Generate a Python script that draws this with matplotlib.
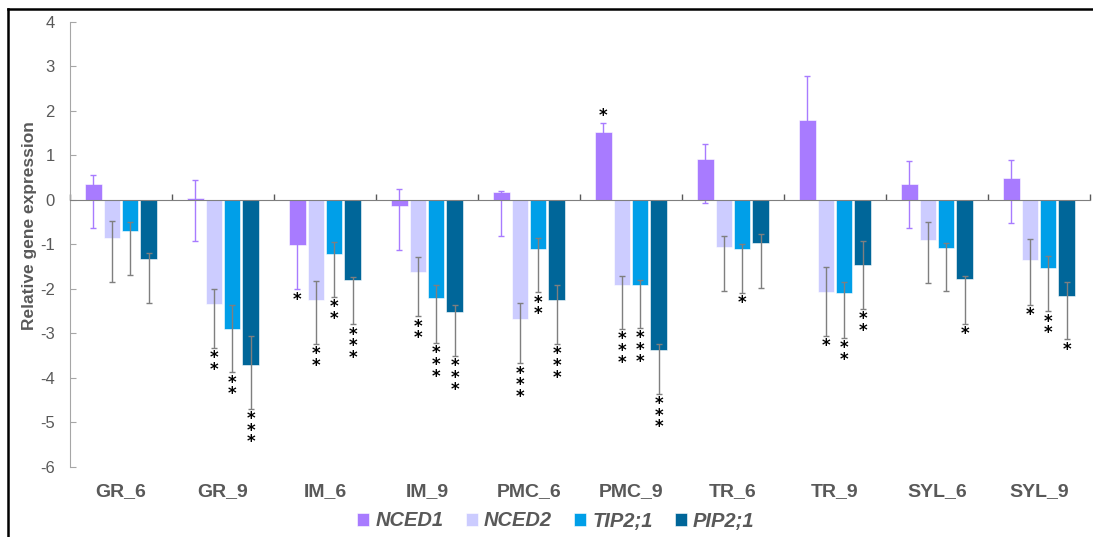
import numpy as np
import matplotlib
matplotlib.use('Agg')
from matplotlib import pyplot as plt
from matplotlib.lines import Line2D

plt.rcParams['font.family'] = ['Liberation Sans', 'DejaVu Sans']
plt.rcParams['axes.unicode_minus'] = False

categories = ['GR_6', 'GR_9', 'IM_6', 'IM_9', 'PMC_6', 'PMC_9', 'TR_6', 'TR_9', 'SYL_6', 'SYL_9']
genes = ['NCED1', 'NCED2', 'TIP2;1', 'PIP2;1']
colors = ['#A87BFF', '#CCCCFF', '#009FE8', '#006699']

# 柱高
nced1 = [0.36, 0.05, -1.01, -0.13, 0.19, 1.53, 0.93, 1.80, 0.37, 0.49]
nced2 = [-0.85, -2.33, -2.24, -1.62, -2.68, -1.91, -1.05, -2.07, -0.90, -1.35]
tip = [-0.69, -2.89, -1.22, -2.21, -1.09, -1.90, -1.09, -2.10, -1.07, -1.53]
pip = [-1.33, -3.70, -1.80, -2.51, -2.24, -3.36, -0.97, -1.47, -1.78, -2.16]

# 误差线上端 / 下端
nced1_hi = [0.56, 0.46, -0.72, 0.24, 0.21, 1.72, 1.25, 2.79, 0.88, 0.90]
nced1_lo = [-0.64, -0.93, -2.01, -1.12, -0.81, 0.53, -0.07, 0.80, -0.63, -0.52]
nced2_hi = [-0.48, -1.99, -1.83, -1.29, -2.32, -1.70, -0.81, -1.50, -0.50, -0.87]
nced2_lo = [-1.85, -3.32, -3.23, -2.61, -3.67, -2.90, -2.04, -3.05, -1.87, -2.35]
tip_hi = [-0.50, -2.37, -0.94, -1.90, -0.85, -1.79, -0.98, -1.85, -0.96, -1.25]
tip_lo = [-1.68, -3.87, -2.18, -3.21, -2.07, -2.87, -2.08, -3.10, -2.04, -2.50]
pip_hi = [-1.19, -3.05, -1.73, -2.35, -1.91, -3.24, -0.76, -0.93, -1.70, -1.85]
pip_lo = [-2.32, -4.69, -2.79, -3.50, -3.23, -4.35, -1.97, -2.45, -2.78, -3.13]

# 显著性星号个数
nced1_sig = [0, 0, 1, 0, 0, 1, 0, 0, 0, 0]
nced2_sig = [0, 2, 2, 2, 3, 3, 0, 1, 0, 1]
tip_sig = [0, 2, 2, 3, 2, 3, 1, 2, 0, 2]
pip_sig = [0, 3, 3, 3, 3, 3, 0, 2, 1, 1]

values = [nced1, nced2, tip, pip]
highs = [nced1_hi, nced2_hi, tip_hi, pip_hi]
lows = [nced1_lo, nced2_lo, tip_lo, pip_lo]
sigs = [nced1_sig, nced2_sig, tip_sig, pip_sig]
err_colors = ['#A87BFF', '#7F7F7F', '#7F7F7F', '#7F7F7F']

gray = '#595959'
fig = plt.figure(figsize=(10.93, 5.37), dpi=100)
ax = fig.add_axes([70 / 1093, 1 - 467 / 537, 1020 / 1093, 445 / 537])

x = np.arange(len(categories))
offsets = [-0.27, -0.09, 0.09, 0.27]
width = 0.158

for i in range(4):
    v = np.array(values[i])
    hi = np.array(highs[i])
    lo = np.array(lows[i])
    xs = x + offsets[i]
    ax.bar(xs, v, width, color=colors[i], edgecolor='white', linewidth=0.4,
           label=genes[i], zorder=2)
    ax.errorbar(xs, v, yerr=[v - lo, hi - v], fmt='none', ecolor=err_colors[i],
                elinewidth=1, capsize=2.5, capthick=1, zorder=3)
    for j in range(len(categories)):
        n = sigs[i][j]
        if n == 0:
            continue
        stars = '\n'.join(['*'] * n)
        if v[j] > 0:
            ax.annotate(stars, (xs[j], hi[j]), xytext=(0, -1), textcoords='offset points',
                        ha='center', va='bottom', fontsize=12, linespacing=0.55,
                        color='black', fontweight='bold', family='DejaVu Sans')
        else:
            ax.annotate(stars, (xs[j], lo[j]), xytext=(0, -1), textcoords='offset points',
                        ha='center', va='top', fontsize=12, linespacing=0.55,
                        color='black', fontweight='bold', family='DejaVu Sans')

ax.set_xlim(-0.5, len(categories) - 0.5)
ax.set_ylim(-6, 4)
ax.set_yticks(range(-6, 5))
ax.tick_params(axis='y', direction='in', length=4, color='#A6A6A6', labelcolor=gray,
               labelsize=12, pad=11)
ax.set_xticks(np.arange(len(categories) + 1) - 0.5)
ax.set_xticklabels([])
ax.tick_params(axis='x', direction='in', length=4.5, color=gray, width=1)

for s in ['top', 'right']:
    ax.spines[s].set_visible(False)
ax.spines['left'].set_color('#A6A6A6')
ax.spines['bottom'].set_position(('data', 0))
ax.spines['bottom'].set_color('#7F7F7F')
ax.spines['bottom'].set_zorder(4)

for j, c in enumerate(categories):
    ax.text(x[j], -0.056, c, transform=ax.get_xaxis_transform(), ha='center', va='center',
            fontsize=14, fontweight='bold', color=gray)

ax.set_ylabel('Relative gene expression', fontsize=12.5, fontweight='bold', color=gray)
ax.yaxis.set_label_coords(-0.032, 0.542)

leg = ax.legend(loc='center', bbox_to_anchor=(556 / 1093, 1 - 521 / 537),
                bbox_transform=fig.transFigure, ncol=4, frameon=False,
                handlelength=0.6, handleheight=0.6, handletextpad=0.3, columnspacing=1.1,
                prop={'size': 14.5, 'weight': 'bold', 'style': 'italic'})
for t in leg.get_texts():
    t.set_color(gray)

# 外框（左、上）
fig.add_artist(Line2D([8 / 1093, 8 / 1093], [0, 1 - 9 / 537], transform=fig.transFigure,
                      color='black', linewidth=1.8))
fig.add_artist(Line2D([8 / 1093, 1], [1 - 9 / 537, 1 - 9 / 537], transform=fig.transFigure,
                      color='black', linewidth=1.8))

plt.savefig('out.png', dpi=100)
